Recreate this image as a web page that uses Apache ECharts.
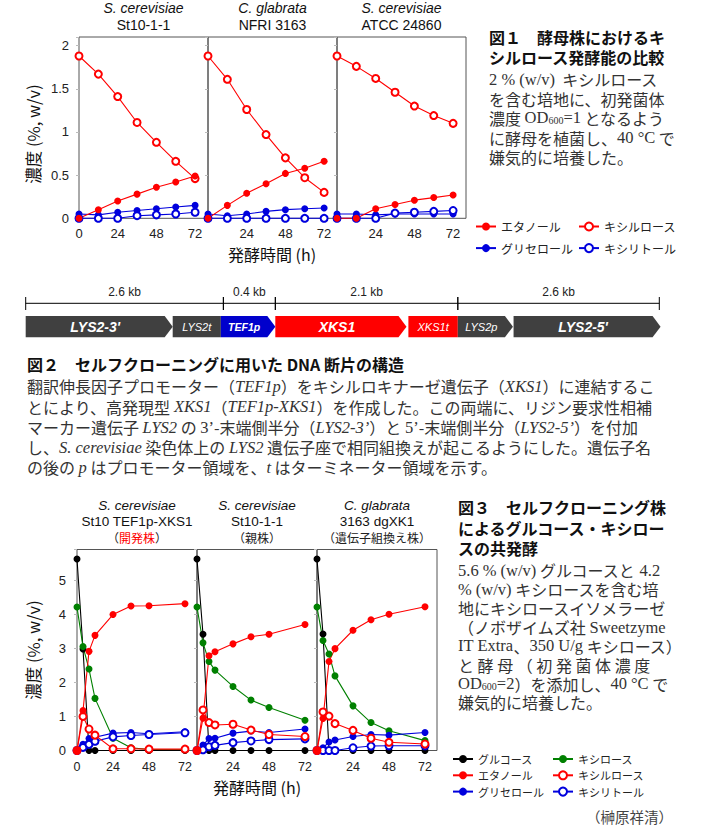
<!DOCTYPE html>
<html><head><meta charset="utf-8">
<script src="https://cdn.jsdelivr.net/npm/echarts@6/dist/echarts.min.js"></script>
<style>html,body{margin:0;padding:0;background:#fff;}#c{width:705px;height:828px;}</style>
</head><body><div id="c"></div>
<script>
// ================= DATA =================
// Figure 1: xylulose fermentation (time in h, concentration % w/v)
const fig1Times = [0, 12, 24, 36, 48, 60, 72];
const fig1Species = ['S. cerevisiae', 'C. glabrata', 'S. cerevisiae'];
const fig1Strains = ['St10-1-1', 'NFRI 3163', 'ATCC 24860'];
const fig1XTicks = [0, 24, 48, 72];
const fig1YTicks = [0, 0.5, 1, 1.5, 2];

const st10Xylulose = [1.88, 1.67, 1.41, 1.11, 0.88, 0.66, 0.46];
const st10Ethanol  = [0, 0.10, 0.20, 0.28, 0.36, 0.42, 0.49];
const st10Glycerol = [0.05, 0.04, 0.07, 0.09, 0.11, 0.13, 0.15];
const st10Xylitol  = [0, 0, 0, 0.03, 0.04, 0.05, 0.07];

const nfriXylulose = [1.88, 1.61, 1.26, 0.97, 0.70, 0.47, 0.30];
const nfriEthanol  = [0, 0.15, 0.29, 0.40, 0.52, 0.58, 0.66];
const nfriGlycerol = [0.05, 0.03, 0.05, 0.08, 0.10, 0.11, 0.12];
const nfriXylitol  = [0, 0, 0, 0, 0, 0, 0];

const atccXylulose = [1.88, 1.76, 1.62, 1.46, 1.30, 1.19, 1.10];
const atccEthanol  = [0, 0, 0.11, 0.16, 0.21, 0.24, 0.27];
const atccGlycerol = [0.05, 0.05, 0.04, 0.05, 0.05, 0.05, 0.05];
const atccXylitol  = [0, 0, 0, 0.06, 0.07, 0.08, 0.09];

// Figure 2: DNA fragment (schematic positions, 0-100 along the drawn fragment)
const dnaNames = ["LYS2-3'", 'LYS2t', 'TEF1p', 'XKS1', 'XKS1t', 'LYS2p', "LYS2-5'"];
const dnaStart = [0, 23.2, 30.8, 39.4, 60.4, 68.2, 77.0];
const dnaEnd   = [23.2, 30.8, 39.4, 60.1, 68.2, 76.9, 100.2];
const dnaArrow = [1, 0, 1, 1, 0, 1, 1];
const scaleBounds = [0, 31.2, 39.4, 68.2, 100];
const scaleLabels = ['2.6 kb', '0.4 kb', '2.1 kb', '2.6 kb'];

// Figure 3: glucose + xylose co-fermentation
const fig3Times = [0, 4, 8, 12, 24, 36, 48, 72];
const fig3Species = ['S. cerevisiae', 'S. cerevisiae', 'C. glabrata'];
const fig3Strains = ['St10 TEF1p-XKS1', 'St10-1-1', '3163 dgXK1'];
const fig3Notes = ['開発株', '親株', '遺伝子組換え株'];
const fig3YTicks = [0, 1, 2, 3, 4, 5];

const devGlucose  = [5.62, 2.98, 0, 0, 0, 0, 0, 0];
const devXylose   = [4.21, 3.05, 2.39, 1.53, 0.36, 0.08, 0.03, 0.03];
const devEthanol  = [0, 1.17, 2.91, 3.38, 3.99, 4.24, 4.25, 4.31];
const devXylulose = [0, 1.00, 0.63, 0.45, 0.05, 0.05, 0.04, 0.04];
const devGlycerol = [0, 0.18, 0.35, 0.39, 0.51, 0.53, 0.49, 0.55];
const devXylitol  = [0, 0.09, 0.18, 0.27, 0.40, 0.44, 0.47, 0.52];

const parGlucose  = [5.62, 3.41, 0, 0, 0, 0, 0, 0];
const parXylose   = [4.21, 3.16, 2.61, 2.36, 1.88, 1.48, 1.26, 0.89];
const parEthanol  = [0, 0.95, 2.78, 2.90, 3.13, 3.34, 3.41, 3.70];
const parXylulose = [0, 1.19, 0.82, 0.75, 0.77, 0.60, 0.47, 0.41];
const parGlycerol = [0, 0.16, 0.35, 0.36, 0.51, 0.57, 0.53, 0.63];
const parXylitol  = [0, 0.02, 0.11, 0.15, 0.23, 0.28, 0.32, 0.34];

const recGlucose  = [5.62, 3.42, 0, 0, 0, 0, 0, 0];
const recXylose   = [4.21, 3.23, 2.83, 2.19, 1.31, 0.82, 0.58, 0.29];
const recEthanol  = [0, 0.94, 2.61, 2.99, 3.53, 3.84, 4.00, 4.22];
const recXylulose = [0, 1.13, 1.01, 0.79, 0.59, 0.36, 0.24, 0.19];
const recGlycerol = [0, 0.08, 0.25, 0.31, 0.41, 0.47, 0.45, 0.53];
const recXylitol  = [0, 0, 0, 0, 0.08, 0.13, 0.14, 0.14];

// ================= STYLE =================
const fontJP = '"Noto Sans CJK JP", sans-serif';
const fontSerif = '"Liberation Serif", "DejaVu Serif", serif';
const fontSans = '"Liberation Sans", Arial, sans-serif';
const RED = '#ff0000', BLUE = '#0000dd', GREEN = '#008000', BLACK = '#000000';
const N = {glu:'グルコース', xyl:'キシロース', eth:'エタノール', xlu:'キシルロース', gly:'グリセロール', xyt:'キシリトール'};

const chart = echarts.init(document.getElementById('c'), null, {renderer: 'svg'});

const grids = [], xAxes = [], yAxes = [], series = [];
// top panels
const topLeft = [79, 208, 337];
topLeft.forEach((l, i) => {
  grids.push({left: l, top: 37, width: 129, height: 181.3, show: true, borderColor: '#555', borderWidth: 1, backgroundColor: 'transparent'});
  xAxes.push({gridIndex: grids.length - 1, type: 'value', min: 0, max: 80, interval: 24,
    axisLine: {show: false}, axisTick: {show: false}, splitLine: {show: false},
    axisLabel: {margin: 9, fontSize: 13, color: '#222', fontFamily: fontSans,
      formatter: v => (fig1XTicks.includes(v) && !(i > 0 && v === 0)) ? String(v) : ''}});
  yAxes.push({gridIndex: grids.length - 1, type: 'value', min: 0, max: 2.1, interval: 0.5,
    axisLine: {show: false}, splitLine: {show: false},
    axisTick: {show: true, length: 3, lineStyle: {color: '#bbb'}},
    axisLabel: {show: i === 0, margin: 10, fontSize: 13, color: '#222', fontFamily: fontSans,
      formatter: v => fig1YTicks.includes(v) ? String(v) : ''}});
});
// bottom panels
const botLeft = [77, 197, 317];
botLeft.forEach((l, i) => {
  grids.push({left: l, top: 549.5, width: 120, height: 201, show: true, borderColor: '#555', borderWidth: 1, backgroundColor: 'transparent'});
  xAxes.push({gridIndex: grids.length - 1, type: 'value', min: 0, max: 80, interval: 24,
    axisLine: {show: false}, axisTick: {show: false}, splitLine: {show: false},
    axisLabel: {margin: 10, fontSize: 12.5, color: '#222', fontFamily: fontSans,
      formatter: v => (fig1XTicks.includes(v) && !(i > 0 && v === 0)) ? String(v) : ''}});
  yAxes.push({gridIndex: grids.length - 1, type: 'value', min: 0, max: 5.9, interval: 1,
    axisLine: {show: false}, splitLine: {show: false},
    axisTick: {show: true, length: 3, lineStyle: {color: '#bbb'}},
    axisLabel: {show: i === 0, margin: 11, fontSize: 13, color: '#222', fontFamily: fontSans,
      formatter: v => fig3YTicks.includes(v) ? String(v) : ''}});
});
// DNA grid
grids.push({left: 25.7, top: 290, width: 633.6, height: 50, show: false});
xAxes.push({gridIndex: 6, type: 'value', min: 0, max: 100, show: false});
yAxes.push({gridIndex: 6, type: 'value', min: 0, max: 1, show: false});

function lineSeries(name, times, values, gi, color, filled) {
  return {
    type: 'line', name, xAxisIndex: gi, yAxisIndex: gi,
    data: times.map((t, k) => [t, values[k]]),
    symbol: filled ? 'circle' : 'emptyCircle', symbolSize: 7, showAllSymbol: true,
    lineStyle: {color, width: 1.1},
    itemStyle: {color, borderColor: color, borderWidth: filled ? 0 : 1.3},
    clip: false, animation: false, silent: true
  };
}
const topSets = [
  [st10Glycerol, st10Xylitol, st10Xylulose, st10Ethanol],
  [nfriGlycerol, nfriXylitol, nfriXylulose, nfriEthanol],
  [atccGlycerol, atccXylitol, atccXylulose, atccEthanol]
];
topSets.forEach((s, i) => {
  series.push(lineSeries(N.gly, fig1Times, s[0], i, BLUE, true));
  series.push(lineSeries(N.xyt, fig1Times, s[1], i, BLUE, false));
  series.push(lineSeries(N.xlu, fig1Times, s[2], i, RED, false));
  series.push(lineSeries(N.eth, fig1Times, s[3], i, RED, true));
});
const botSets = [
  [devGlucose, devXylose, devGlycerol, devXylitol, devXylulose, devEthanol],
  [parGlucose, parXylose, parGlycerol, parXylitol, parXylulose, parEthanol],
  [recGlucose, recXylose, recGlycerol, recXylitol, recXylulose, recEthanol]
];
botSets.forEach((s, i) => {
  const gi = 3 + i;
  series.push(lineSeries(N.glu, fig3Times, s[0], gi, BLACK, true));
  series.push(lineSeries(N.xyl, fig3Times, s[1], gi, GREEN, true));
  series.push(lineSeries(N.gly, fig3Times, s[2], gi, BLUE, true));
  series.push(lineSeries(N.xyt, fig3Times, s[3], gi, BLUE, false));
  series.push(lineSeries(N.xlu, fig3Times, s[4], gi, RED, false));
  series.push(lineSeries(N.eth, fig3Times, s[5], gi, RED, true));
});

// DNA features via custom series
const dnaColor = ['#404040', '#404040', '#0000cc', '#ff0000', '#ff0000', '#404040', '#404040'];
const dnaLabelSize = [14, 11, 10.5, 14, 11, 11, 14];
const dnaLabelBold = [1, 0, 1, 1, 0, 0, 1];
series.push({
  type: 'custom', xAxisIndex: 6, yAxisIndex: 6, silent: true, animation: false,
  data: dnaNames.map((n, i) => [dnaStart[i], dnaEnd[i], dnaArrow[i]]),
  renderItem: (params, api) => {
    const i = params.dataIndex;
    const a = api.coord([api.value(0), 0.48]);
    const b = api.coord([api.value(1), 0.054]);
    const top = a[1], bot = b[1], mid = (top + bot) / 2;
    const tip = api.value(2) ? 8 : 0;
    const pts = tip ? [[a[0], top], [b[0] - tip, top], [b[0], mid], [b[0] - tip, bot], [a[0], bot]]
                    : [[a[0], top], [b[0], top], [b[0], bot], [a[0], bot]];
    return {type: 'group', children: [
      {type: 'polygon', shape: {points: pts}, style: {fill: dnaColor[i]}},
      {type: 'text', x: (a[0] + b[0] - tip) / 2, y: mid + 0.5, style: {text: dnaNames[i], fill: '#fff',
        fontFamily: fontSans, fontStyle: 'italic', fontWeight: dnaLabelBold[i] ? 'bold' : 'normal',
        fontSize: dnaLabelSize[i], align: 'center', verticalAlign: 'middle'}}
    ]};
  }
});
series.push({
  type: 'custom', xAxisIndex: 6, yAxisIndex: 6, silent: true, animation: false,
  data: scaleLabels.map((l, i) => [scaleBounds[i], scaleBounds[i + 1]]),
  renderItem: (params, api) => {
    const a = api.coord([api.value(0), 0.734]);
    const b = api.coord([api.value(1), 0.734]);
    const t1 = api.coord([0, 0.86])[1], t2 = api.coord([0, 0.6])[1];
    const ls = {stroke: '#000', lineWidth: 1};
    return {type: 'group', children: [
      {type: 'line', shape: {x1: a[0], y1: a[1], x2: b[0], y2: b[1]}, style: ls},
      {type: 'line', shape: {x1: a[0], y1: t1, x2: a[0], y2: t2}, style: ls},
      {type: 'line', shape: {x1: b[0], y1: t1, x2: b[0], y2: t2}, style: ls},
      {type: 'text', x: (a[0] + b[0]) / 2, y: api.coord([0, 0.96])[1], style: {text: scaleLabels[params.dataIndex],
        fill: '#222', fontFamily: fontSans, fontSize: 12, align: 'center', verticalAlign: 'middle'}}
    ]};
  }
});

// ================= TEXT =================
const G = [];
const LH = 15;
function txt(x, y, text, o) {
  o = o || {};
  const st = {text, fontFamily: o.ff || fontJP, fontSize: o.fs || 16, fontWeight: o.fw || 'normal',
    fontStyle: o.it ? 'italic' : 'normal', fill: o.fill || '#222', align: o.align || 'left', verticalAlign: 'middle'};
  if (o.rich) { st.rich = o.rich; st.lineHeight = LH; }
  G.push({type: 'text', x, y, rotation: o.rot || 0, silent: true, style: st});
}
// panel titles fig1
topLeft.forEach((l, i) => {
  const cx = l + 64.5;
  txt(cx, 8, fig1Species[i], {ff: fontSans, fs: 14, it: true, align: 'center', fill: '#111'});
  txt(cx, 25, fig1Strains[i], {ff: fontSans, fs: 14, align: 'center', fill: '#111'});
});
txt(33, 134, '濃度 (%, w/v)', {fs: 16.5, align: 'center', rot: Math.PI / 2, fill: '#111'});
txt(272, 254, '発酵時間 (h)', {fs: 16, align: 'center', fill: '#111'});
// panel titles fig3
botLeft.forEach((l, i) => {
  const cx = l + 60;
  txt(cx, 505, fig3Species[i], {ff: fontSans, fs: 13.5, it: true, align: 'center', fill: '#111'});
  txt(cx, 521.5, fig3Strains[i], {ff: fontSans, fs: 13.5, align: 'center', fill: '#111'});
  txt(cx, 537.5, '（{r|' + fig3Notes[i] + '}）', {fs: 12, align: 'center', fill: '#222',
    rich: {r: {fill: i === 0 ? '#ff0000' : '#222', fontFamily: fontJP, fontSize: 12, lineHeight: LH}}});
});
txt(33, 650, '濃度 (%, w/v)', {fs: 16.5, align: 'center', rot: Math.PI / 2, fill: '#111'});
txt(257, 786.5, '発酵時間 (h)', {fs: 16, align: 'center', fill: '#111'});

// captions
const bodyFill = '#333';
const rich = {
  s: {fontFamily: fontSerif, fontSize: 16.5, fill: bodyFill, lineHeight: LH},
  i: {fontFamily: fontSerif, fontStyle: 'italic', fontSize: 16.5, fill: bodyFill, lineHeight: LH},
  sub: {fontFamily: fontSerif, fontSize: 10, fill: bodyFill, lineHeight: 10, verticalAlign: 'bottom'}
};
const head = (x, y, t) => txt(x, y, t, {fs: 16, fw: 'bold', fill: '#111'});
const body = (x, y, t) => txt(x, y, t, {fs: 16, fill: bodyFill, rich});

head(489, 37, '図１　酵母株におけるキ');
head(489, 57, 'シルロース発酵能の比較');
body(489, 79, '{s|2 % (w/v)}  キシルロース');
body(489, 98.5, 'を含む培地に、初発菌体');
body(489, 117.5, '濃度 {s|OD}{sub|600}{s|=1} となるよう');
body(489, 137.5, 'に酵母を植菌し、{s|40 °C} で');
body(489, 157, '嫌気的に培養した。');

head(27, 363.5, '図２　セルフクローニングに用いた DNA 断片の構造');
body(27, 386, '翻訳伸長因子プロモーター（{i|TEF1p}）をキシルロキナーゼ遺伝子（{i|XKS1}）に連結するこ');
body(27, 406.5, 'とにより、高発現型 {i|XKS1}（{i|TEF1p-XKS1}）を作成した。この両端に、リジン要求性相補');
body(27, 427, 'マーカー遺伝子 {i|LYS2} の {s|3’}-末端側半分（{i|LYS2-3’}）と {s|5’}-末端側半分（{i|LYS2-5’}）を付加');
body(27, 447, 'し、{i|S. cerevisiae} 染色体上の {i|LYS2} 遺伝子座で相同組換えが起こるようにした。遺伝子名');
body(27, 467, 'の後の {i|p} はプロモーター領域を、{i|t} はターミネーター領域を示す。');

head(458, 507, '図３　セルフクローニング株');
head(458, 527.5, 'によるグルコース・キシロー');
head(458, 548, 'スの共発酵');
body(458, 570, '{s|5.6 % (w/v)} グルコースと {s|4.2}');
body(458, 589, '{s|% (w/v)} キシロースを含む培');
body(458, 608, '地にキシロースイソメラーゼ');
body(458, 627, '（ノボザイムズ社 {s|Sweetzyme}');
body(458, 645.5, '{s|IT Extra}、{s|350 U/g} キシロース）');
body(458, 664.5, 'と 酵 母 （ 初 発 菌 体 濃 度');
body(458, 683.5, '{s|OD}{sub|600}{s|=2}）を添加し、{s|40 °C} で');
body(458, 702, '嫌気的に培養した。');

txt(673, 816, '（榊原祥清）', {fs: 14.5, align: 'right', fill: '#444'});

const legText = (fs) => ({fontSize: fs, fontFamily: fontJP, color: '#222', lineHeight: fs + 2});
const legBase = {orient: 'vertical', itemWidth: 20, itemHeight: 10, padding: 0, selectedMode: false};

chart.setOption({
  animation: false,
  backgroundColor: '#fff',
  grid: grids, xAxis: xAxes, yAxis: yAxes, series,
  legend: [
    Object.assign({}, legBase, {data: [N.eth, N.gly], left: 475, top: 219.5, itemGap: 7.6, textStyle: legText(12)}),
    Object.assign({}, legBase, {data: [N.xlu, N.xyt], left: 578, top: 219.5, itemGap: 7.6, textStyle: legText(12)}),
    Object.assign({}, legBase, {data: [N.glu, N.eth, N.gly], left: 452, top: 752.5, itemGap: 3.3, textStyle: legText(11)}),
    Object.assign({}, legBase, {data: [N.xyl, N.xlu, N.xyt], left: 552, top: 752.5, itemGap: 3.3, textStyle: legText(11)})
  ],
  graphic: {elements: G}
});
</script>
</body></html>
